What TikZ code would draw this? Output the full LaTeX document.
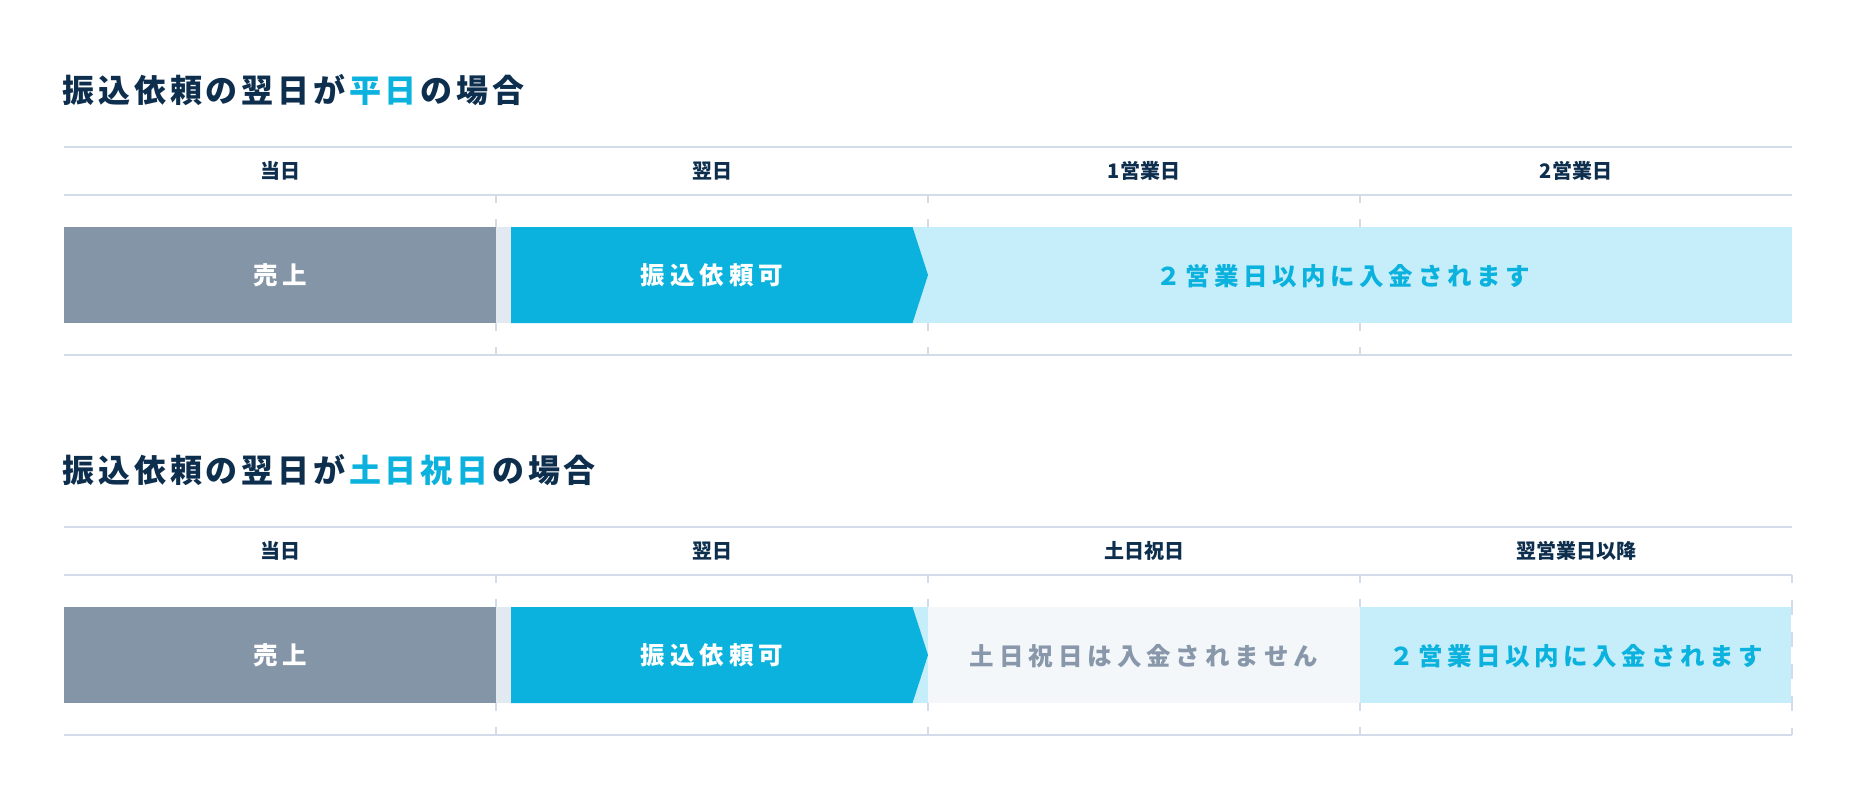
\documentclass[tikz,border=0pt]{standalone}
\usepackage{fontspec}
\newfontfamily\jp{Noto Sans CJK JP}
\definecolor{navy}{HTML}{0E2E4E}
\definecolor{accent}{HTML}{0BB2DE}
\definecolor{lightc}{HTML}{C5EEFA}
\definecolor{grayb}{HTML}{8595A8}
\definecolor{gapc}{HTML}{E2E9F1}
\definecolor{offw}{HTML}{F4F7FA}
\definecolor{linec}{HTML}{D3DDE9}
\definecolor{grayt}{HTML}{8898AA}
\makeatletter
\newcommand\ls[2][0pt]{\def\ls@k{\kern#1}\ls@go#2\relax}
\def\ls@go#1{\ifx#1\relax\unkern\else#1\ls@k\expandafter\ls@go\fi}
\makeatother
\begin{document}
\begin{tikzpicture}[x=1pt,y=-1pt,
  hline/.style={draw=linec, line width=2pt},
  tick/.style={draw=linec, line width=2pt, dash pattern=on 8pt off 16pt},
  hdr/.style={font=\jp\bfseries\fontsize{20}{24}\selectfont, text=navy, inner sep=0pt},
  bartxt/.style={font=\jp\bfseries\fontsize{24.5}{28}\selectfont, inner sep=0pt},
  ttl/.style={font=\jp\bfseries\fontsize{32}{38}\selectfont, text=navy, inner sep=0pt, anchor=west}]
\useasboundingbox (0,0) rectangle (1857,801);

% ---------- Section 1 ----------
\node[ttl] (title1) at (62.5,90) {\ls[3.8pt]{振込依頼の翌日が}\kern3.8pt{\color{accent}\ls[3.8pt]{平日}}\kern3.8pt\ls[3.8pt]{の場合}};
\draw[hline] (64,147) -- (1792,147);
\draw[hline] (64,195) -- (1792,195);
\draw[hline] (64,355) -- (1792,355);
\node[hdr] (h1a) at (280,171) {当日};
\node[hdr] (h1b) at (712,171) {翌日};
\node[hdr] (h1c) at (1144,171) {1営業日};
\node[hdr] (h1d) at (1576,171) {2営業日};
\foreach \x in {496,928,1360} {
  \draw[tick] (\x,195) -- (\x,227);
  \draw[tick] (\x,323) -- (\x,355);
}
\fill[lightc] (900,227) rectangle (1792,323);
\fill[grayb] (64,227) rectangle (496,323);
\fill[gapc] (496,227) rectangle (511,323);
\fill[accent] (511,227) -- (912.5,227) -- (928,275) -- (912.5,323) -- (511,323) -- cycle;
\node[bartxt, text=white] (sales1) at (280,275) {\ls[5pt]{売上}};
\node[bartxt, text=white] (req1) at (712,275) {\ls[5pt]{振込依頼可}};
\node[bartxt, text=accent] (dep1) at (1343,276) {\ls[4.6pt]{２営業日以内に入金されます}};

% ---------- Section 2 ----------
\node[ttl] (title2) at (62.5,470) {\ls[3.8pt]{振込依頼の翌日が}\kern3.8pt{\color{accent}\ls[3.8pt]{土日祝日}}\kern3.8pt\ls[3.8pt]{の場合}};
\draw[hline] (64,527) -- (1792,527);
\draw[hline] (64,575) -- (1792,575);
\draw[hline] (64,735) -- (1792,735);
\node[hdr] (h2a) at (280,551) {当日};
\node[hdr] (h2b) at (712,551) {翌日};
\node[hdr] (h2c) at (1144,551) {土日祝日};
\node[hdr] (h2d) at (1576,551) {翌営業日以降};
\foreach \x in {496,928,1360} {
  \draw[tick] (\x,575) -- (\x,607);
  \draw[tick] (\x,703) -- (\x,735);
}
\draw[draw=linec, line width=2pt, dash pattern=on 15pt off 17pt, dash phase=7pt] (1792,575) -- (1792,735);
\fill[lightc] (900,607) rectangle (928,703);
\fill[offw] (928,607) rectangle (1360,703);
\fill[lightc] (1360,607) rectangle (1791,703);
\fill[grayb] (64,607) rectangle (496,703);
\fill[gapc] (496,607) rectangle (511,703);
\fill[accent] (511,607) -- (912.5,607) -- (928,655) -- (912.5,703) -- (511,703) -- cycle;
\node[bartxt, text=white] (sales2) at (280,655) {\ls[5pt]{売上}};
\node[bartxt, text=white] (req2) at (712,655) {\ls[5pt]{振込依頼可}};
\node[bartxt, text=grayt] (none2) at (1144,656) {\ls[5pt]{土日祝日は入金されません}};
\node[bartxt, text=accent] (dep2) at (1576,656) {\ls[4.6pt]{２営業日以内に入金されます}};
\end{tikzpicture}
\end{document}
